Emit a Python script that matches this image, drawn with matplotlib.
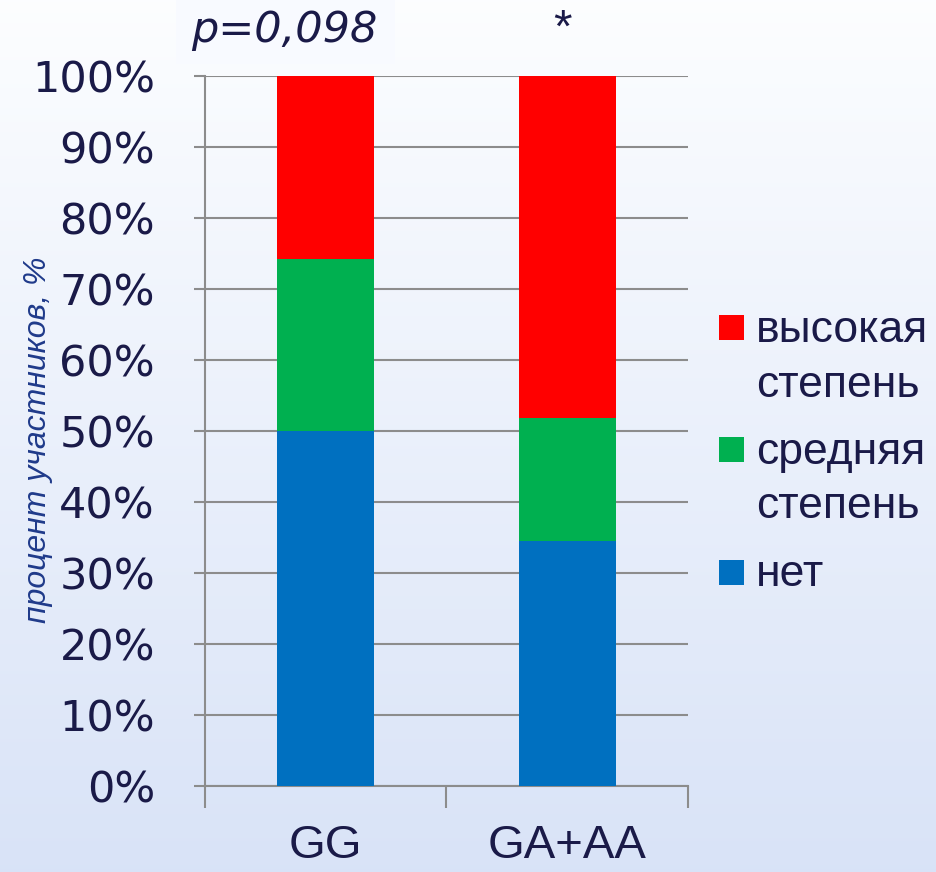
import matplotlib.pyplot as plt
import numpy as np
from matplotlib.patches import Rectangle

# data (percent of participants)
groups = ['GG', 'GA+AA']
net = [50.0, 34.5]
medium = [24.2, 17.3]
high = [25.8, 48.2]
labels = ['высокая\nстепень', 'средняя\nстепень', 'нет']
colors = ['#ff0000', '#00b050', '#0070c0']

txt = '#1a1a48'
W, H = 937, 872

fig = plt.figure(figsize=(W / 100, H / 100), dpi=100)

# gradient background
bg = fig.add_axes([0, 0, 1, 1], zorder=-10)
grad = np.linspace(0, 1, 256).reshape(-1, 1)
top = np.array([0.99, 0.995, 1.0])
bot = np.array([0.85, 0.89, 0.97])
img = top + (bot - top) * grad[:, :, None]
bg.imshow(img, aspect='auto', extent=[0, 1, 0, 1])
bg.axis('off')
# light box behind p-value
bg.add_patch(Rectangle((176 / W, 1 - 64 / H), 219 / W, 64 / H,
                       transform=bg.transAxes, color='#f8faff', lw=0))

ax = fig.add_axes([205 / W, 1 - 786 / H, 483 / W, 710 / H])
ax.patch.set_alpha(0)
x = np.arange(len(groups))
w = 0.4
ax.bar(x, net, w, color=colors[2], zorder=3)
ax.bar(x, medium, w, bottom=net, color=colors[1], zorder=3)
ax.bar(x, high, w, bottom=np.array(net) + np.array(medium),
       color=colors[0], zorder=3)

ax.set_xlim(-0.5, 1.5)
ax.set_ylim(0, 100)
ax.set_yticks(range(0, 101, 10))
ax.set_yticklabels([f'{v}%' for v in range(0, 101, 10)], fontsize=31, color=txt)
ax.yaxis.grid(True, color='#8c8c8c', lw=1.5, zorder=0)
ax.tick_params(axis='y', length=8, width=1.5, color='#8c8c8c', pad=28)

ax.set_xticks([-0.5, 0.5, 1.5])
ax.set_xticklabels([])
ax.set_xticks(x, minor=True)
ax.set_xticklabels(groups, minor=True, fontsize=34, color=txt,
                   family='Liberation Sans')
ax.tick_params(axis='x', which='major', length=16, width=1.5, color='#8c8c8c')
ax.tick_params(axis='x', which='minor', length=0, pad=27)

for s in ['top', 'right']:
    ax.spines[s].set_visible(False)
for s in ['left', 'bottom']:
    ax.spines[s].set_color('#8c8c8c')
    ax.spines[s].set_linewidth(1.5)

fig.text(38 / W, 1 - 440 / H, 'процент участников, %', fontsize=23,
         style='italic', color='#1f3a8a', family='Liberation Sans',
         rotation=90, ha='center', va='center')

fig.text(284 / W, 1 - 30 / H, 'p=0,098', fontsize=31, style='italic',
         color=txt, ha='center', va='center')
fig.text(562 / W, 1 - 30 / H, '*', fontsize=34, color=txt,
         ha='center', va='center', family='Liberation Sans')

# legend, drawn by hand so each square sits on the first line of its label
y = 330
line_h, gap, sq = 55, 67, 25
for lab, c in zip(labels, colors):
    lines = lab.split('\n')
    fig.patches.append(Rectangle((719 / W, 1 - (y + sq / 2 - 2) / H), sq / W, sq / H,
                                 transform=fig.transFigure, color=c, lw=0))
    for i, ln in enumerate(lines):
        fig.text(756 / W, 1 - (y + i * line_h) / H, ln, fontsize=32,
                 color=txt, family='Liberation Sans', ha='left', va='center')
    y += (len(lines) - 1) * line_h + gap

fig.savefig('out.png', dpi=100)
